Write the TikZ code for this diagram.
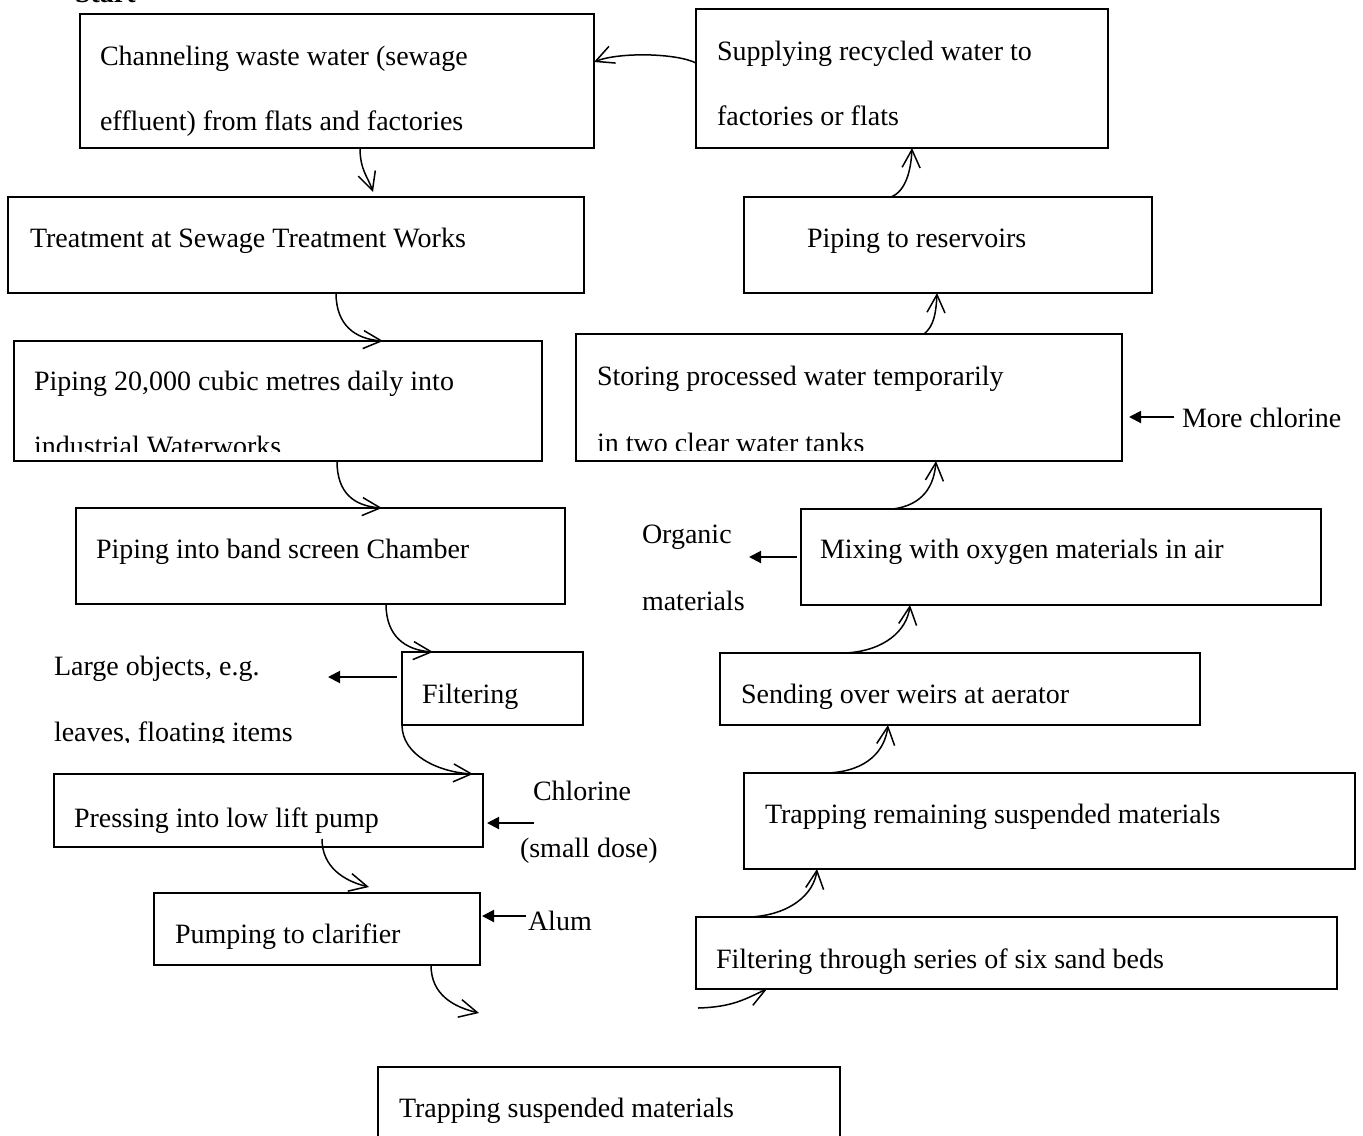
\documentclass[tikz,border=0pt]{standalone}
\usepackage{fontspec}
\setmainfont{Liberation Serif}
\usetikzlibrary{arrows.meta,calc}
\tikzset{
  box/.style={draw, line width=1pt, rectangle, inner sep=0pt, outer sep=0pt},
  txt/.style={font=\fontsize{14}{16}\selectfont, inner sep=0pt, outer sep=0pt, anchor=base west},
  flow/.style={line width=0.75pt, -{Straight Barb[length=9pt,width=9pt,line width=0.75pt]}},
  feed/.style={line width=1pt, -{Triangle[length=6pt,width=6pt]}}
}
\newcommand\bx[5]{\node[box,anchor=north west,minimum width={(#4-#2)*0.5pt},minimum height={(#5-#3)*0.5pt}] (#1) at (#2,#3) {};}
\newcommand\tx[4]{\node[txt] (#1) at (#2,#3) {#4};}
\begin{document}
\begin{tikzpicture}[x=0.5pt,y=-0.5pt]
\useasboundingbox (0,0) rectangle (1363,1135);
% boxes
\bx{chan}{80}{14}{594}{148}
\bx{sup}{696}{9}{1108}{148}
\bx{treat}{8}{197}{584}{293}
\bx{res}{744}{197}{1152}{293}
\bx{pip}{14}{341}{542}{461}
\bx{store}{576}{334}{1122}{461}
\bx{band}{76}{508}{565}{604}
\bx{mix}{801}{509}{1321}{605}
\bx{filt}{402}{652}{583}{725}
\bx{send}{720}{653}{1200}{725}
\bx{press}{54}{774}{483}{847}
\bx{trrem}{744}{773}{1355}{869}
\bx{pump}{154}{893}{480}{965}
\bx{ft}{696}{917}{1337}{989}
\bx{trsus}{378}{1067}{840}{1175}
% texts
\node[txt,font=\fontsize{14}{16}\selectfont\bfseries] (start) at (75,3) {Start};
\tx{chan1}{100}{65}{Channeling waste water (sewage}
\tx{chan2}{100}{130}{effluent) from flats and factories}
\tx{sup1}{717}{60}{Supplying recycled water to}
\tx{sup2}{717}{125}{factories or flats}
\tx{treat1}{30}{247}{Treatment at Sewage Treatment Works}
\tx{res1}{807}{247}{Piping to reservoirs}
\tx{pip1}{34}{390}{Piping 20,000 cubic metres daily into}
\begin{scope}
\clip (14,341) rectangle (542,451);
\tx{pip2}{34}{455}{industrial Waterworks}
\end{scope}
\tx{store1}{597}{385}{Storing processed water temporarily}
\begin{scope}
\clip (576,334) rectangle (1122,450.5);
\tx{store2}{597}{452}{in two clear water tanks}
\end{scope}
\tx{more}{1182}{427}{More chlorine}
\tx{band1}{96}{558}{Piping into band screen Chamber}
\tx{org1}{642}{543}{Organic}
\tx{org2}{642}{610}{materials}
\tx{mix1}{820}{558}{Mixing with oxygen materials in air}
\tx{large1}{54}{675}{Large objects, e.g.}
\begin{scope}
\clip (0,700) rectangle (400,742);
\tx{large2}{54}{741}{leaves, floating items}
\end{scope}
\tx{filt1}{422}{703}{Filtering}
\tx{send1}{741}{703}{Sending over weirs at aerator}
\tx{chl1}{533}{800}{Chlorine}
\tx{chl2}{520}{857}{(small dose)}
\tx{press1}{74}{827}{Pressing into low lift pump}
\tx{trrem1}{765}{823}{Trapping remaining suspended materials}
\tx{alum}{528}{930}{Alum}
\tx{pump1}{175}{943}{Pumping to clarifier}
\tx{ft1}{716}{968}{Filtering through series of six sand beds}
\tx{trsus1}{399}{1117}{Trapping suspended materials}
% free ends
\coordinate (pe) at (479,1013);
\coordinate (fs) at (698,1008);
\coordinate (lg) at (328,677);
\coordinate (cl) at (534,823);
\coordinate (al) at (526,916);
\coordinate (og) at (749,557);
\coordinate (mc) at (1174,417);
% flow connectors
\draw[flow] ($(sup.north west)+(0,54)$) .. controls +(-20,-10) and +(25,-10) .. ($(chan.north east)+(0,48)$);
\draw[flow] ($(chan.south west)+(280,0)$) .. controls +(0,22) and +(-5,-15) .. ($(treat.north west)+(365,-5)$);
\draw[flow] ($(treat.south west)+(328,0)$) .. controls +(0,32) and +(-28,-2) .. ($(pip.north west)+(369,0)$);
\draw[flow] ($(pip.south west)+(323,0)$) .. controls +(0,32) and +(-28,-2) .. ($(band.north west)+(306,0)$);
\draw[flow] ($(band.south west)+(310,0)$) .. controls +(0,32) and +(-28,-2) .. ($(filt.north west)+(31,0)$);
\draw[flow] (filt.south west) .. controls +(0,30) and +(-35,-2) .. ($(press.north west)+(419,0)$);
\draw[flow] ($(press.south west)+(268,-8)$) .. controls +(0,28) and +(-25,-6) .. ($(pump.north west)+(215,-6)$);
\draw[flow] ($(pump.south west)+(277,0)$) .. controls +(0,30) and +(-25,-6) .. (pe);
\draw[flow] (fs) .. controls +(35,-1) and +(-22,10) .. ($(ft.south west)+(71,0)$);
\draw[flow] ($(ft.north west)+(54,0)$) .. controls +(40,-2) and +(-3,25) .. ($(trrem.south west)+(73,0)$);
\draw[flow] ($(trrem.north west)+(84,0)$) .. controls +(40,-2) and +(-3,25) .. ($(send.south west)+(168,0)$);
\draw[flow] ($(send.north west)+(125,0)$) .. controls +(40,-2) and +(-3,25) .. ($(mix.south west)+(109,0)$);
\draw[flow] ($(mix.north west)+(92,0)$) .. controls +(30,-4) and +(-2,25) .. ($(store.south west)+(360,0)$);
\draw[flow] ($(store.north west)+(348,0)$) .. controls +(10,-8) and +(-1,20) .. ($(res.south west)+(193,0)$);
\draw[flow] ($(res.north west)+(147,0)$) .. controls +(15,-6) and +(-1,22) .. ($(sup.south west)+(216,0)$);
% feed arrows
\draw[feed] ($(filt.north west)+(-5,25)$) -- (lg);
\draw[feed] (cl) -- ($(press.north east)+(4,49)$);
\draw[feed] (al) -- ($(pump.north east)+(2,23)$);
\draw[feed] ($(mix.north west)+(-4,48)$) -- (og);
\draw[feed] (mc) -- ($(store.north east)+(7,83)$);
\end{tikzpicture}
\end{document}
